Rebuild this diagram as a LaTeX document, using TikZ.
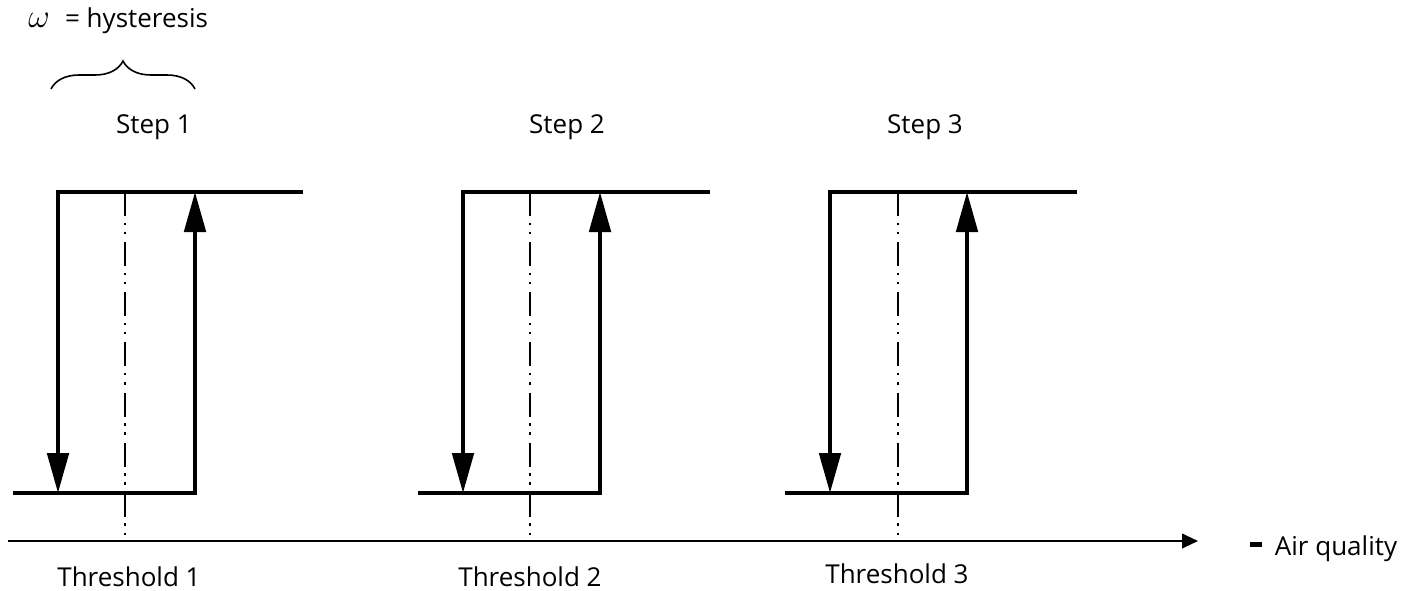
\documentclass[tikz,border=0pt]{standalone}
\usepackage{fontspec}
\setmainfont{Open Sans}
\usetikzlibrary{arrows.meta,decorations.pathreplacing}

\tikzset{
  stepline/.style={line width=3pt,line join=miter},
  stepend/.style={-{Triangle[length=30pt,width=16pt]}},
  thresh/.style={line width=1.5pt,dash pattern=on 18pt off 5pt on 1.8pt off 5pt on 1.8pt off 6pt},
  lbl/.style={font=\fontsize{19.5}{23}\selectfont,inner sep=0pt,anchor=base}
}

\begin{document}
\begin{tikzpicture}[x=0.75pt,y=-0.75pt]

            \useasboundingbox (0,0) rectangle (1406,590);

            % corners of the three steps
            \coordinate (t1r) at (303,192);  \coordinate (t1l) at (58,192);  \coordinate (d1) at (58,493);
            \coordinate (b1l) at (13,493);   \coordinate (b1r) at (195,493); \coordinate (u1) at (195,192);
            \coordinate (t2r) at (710,192);  \coordinate (t2l) at (463,192); \coordinate (d2) at (463,493);
            \coordinate (b2l) at (418,493);  \coordinate (b2r) at (600,493); \coordinate (u2) at (600,192);
            \coordinate (t3r) at (1077,192); \coordinate (t3l) at (830,192); \coordinate (d3) at (830,493);
            \coordinate (b3l) at (785,493);  \coordinate (b3r) at (967,493); \coordinate (u3) at (967,192);

            % threshold marks
            \coordinate (h1t) at (125,192); \coordinate (h1b) at (125,541);
            \coordinate (h2t) at (530,192); \coordinate (h2b) at (530,541);
            \coordinate (h3t) at (898,192); \coordinate (h3b) at (898,541);

            % axis
            \coordinate (ax0) at (8,541);
            \coordinate (ax1) at (1198,541);

            \draw[thresh] (h1t) -- (h1b);
            \draw[thresh] (h2t) -- (h2b);
            \draw[thresh] (h3t) -- (h3b);

            \draw[stepline,stepend] (t1r) -- (t1l) -- (d1);
            \draw[stepline,stepend] (b1l) -- (b1r) -- (u1);
            \draw[stepline,stepend] (t2r) -- (t2l) -- (d2);
            \draw[stepline,stepend] (b2l) -- (b2r) -- (u2);
            \draw[stepline,stepend] (t3r) -- (t3l) -- (d3);
            \draw[stepline,stepend] (b3l) -- (b3r) -- (u3);

            \draw[line width=1.5pt,-{Triangle[length=12pt,width=11pt]}] (ax0) -- (ax1);

            % hysteresis brace
            \coordinate (w0) at (51,89);
            \coordinate (w1) at (195,89);
            \draw[line width=1.2pt,decorate,decoration={brace,amplitude=21pt}] (w0) -- (w1);

            \node[lbl,anchor=base west] (hys) at (28,27) {{\fontsize{31}{34}\selectfont$\omega$}\,\, = hysteresis};

            \node[lbl] (s1) at (154,133) {Step 1};
            \node[lbl] (s2) at (567,133) {Step 2};
            \node[lbl] (s3) at (925,133) {Step 3};

            \node[lbl] (th1) at (129,586) {Threshold 1};
            \node[lbl] (th2) at (530,586) {Threshold 2};
            \node[lbl] (th3) at (897,583) {Threshold 3};

            \node[lbl,anchor=base west] (aq) at (1250,555) {\rule[6pt]{9pt}{3.6pt}\hspace{9.5pt}Air quality};

        \end{tikzpicture}
\end{document}
